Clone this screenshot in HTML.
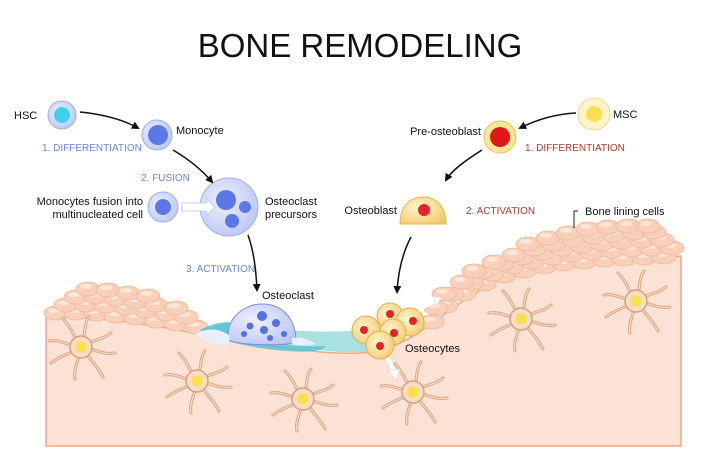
<!DOCTYPE html>
<html><head><meta charset="utf-8"><style>
html,body{margin:0;padding:0;background:#fff;}
svg{display:block;font-family:"Liberation Sans",sans-serif;}
</style></head><body>
<svg width="720" height="474" viewBox="0 0 720 474" xmlns="http://www.w3.org/2000/svg">
<defs>
<marker id="ar" markerWidth="8" markerHeight="8" refX="6" refY="4" orient="auto" markerUnits="userSpaceOnUse"><path d="M0,0 L8,4 L0,8 Z" fill="#111"/></marker>
<radialGradient id="blue" cx="0.4" cy="0.4" r="0.7"><stop offset="0" stop-color="#eef0ff"/><stop offset="1" stop-color="#b9c4f2"/></radialGradient>
<radialGradient id="yel" cx="0.4" cy="0.4" r="0.7"><stop offset="0" stop-color="#fff6cc"/><stop offset="1" stop-color="#f3c96e"/></radialGradient>
<g id="ocy">
<g fill="none" stroke="#d9a07a" stroke-width="3" stroke-linecap="round">
<path d="M0,0 C5,-12 2,-22 8,-30"/><path d="M0,0 C12,-8 20,-6 30,-14"/><path d="M0,0 C14,2 22,8 34,6"/><path d="M0,0 C8,12 16,18 22,30"/><path d="M0,0 C-2,14 -8,22 -6,32"/><path d="M0,0 C-12,8 -20,8 -30,16"/><path d="M0,0 C-14,-2 -22,-8 -32,-6"/><path d="M0,0 C-8,-12 -10,-20 -18,-28"/>
</g>
<g fill="none" stroke="#f8dcc8" stroke-width="1.2" stroke-linecap="round">
<path d="M0,0 C5,-12 2,-22 8,-30"/><path d="M0,0 C12,-8 20,-6 30,-14"/><path d="M0,0 C14,2 22,8 34,6"/><path d="M0,0 C8,12 16,18 22,30"/><path d="M0,0 C-2,14 -8,22 -6,32"/><path d="M0,0 C-12,8 -20,8 -30,16"/><path d="M0,0 C-14,-2 -22,-8 -32,-6"/><path d="M0,0 C-8,-12 -10,-20 -18,-28"/>
</g>
<circle r="11" fill="#f7dcc6" stroke="#d9a07a" stroke-width="1.5"/>
<circle r="5.5" fill="#f8e04a"/>
</g>
<g id="lc"><ellipse rx="12" ry="7" fill="#f8cfb8" stroke="#ecb79c" stroke-width="0.8"/><ellipse cx="-2" cy="-2.5" rx="6" ry="2.5" fill="#fde6d8"/></g>
</defs>

<text x="360" y="57" text-anchor="middle" font-size="33" fill="#111">BONE REMODELING</text>

<!-- bone -->
<path d="M46,318 C120,314 200,336 250,343 C300,350 340,356 372,352 C420,344 452,300 500,280 C560,264 620,260 681,256 L681,446 L46,446 Z" fill="#fbe2d5" stroke="#eea886" stroke-width="1.5"/>

<!-- lining cells left -->
<g>
<use href="#lc" x="56" y="313"/><use href="#lc" x="76" y="313"/><use href="#lc" x="96" y="314"/><use href="#lc" x="116" y="316"/><use href="#lc" x="136" y="318"/><use href="#lc" x="156" y="321"/><use href="#lc" x="176" y="324"/><use href="#lc" x="196" y="327"/>
<use href="#lc" x="66" y="305"/><use href="#lc" x="86" y="305"/><use href="#lc" x="106" y="306"/><use href="#lc" x="126" y="308"/><use href="#lc" x="146" y="311"/><use href="#lc" x="166" y="314"/><use href="#lc" x="186" y="317"/>
<use href="#lc" x="76" y="297"/><use href="#lc" x="96" y="297"/><use href="#lc" x="116" y="299"/><use href="#lc" x="136" y="302"/><use href="#lc" x="156" y="305"/><use href="#lc" x="176" y="308"/>
<use href="#lc" x="88" y="289"/><use href="#lc" x="108" y="290"/><use href="#lc" x="128" y="293"/><use href="#lc" x="148" y="296"/>
</g>
<!-- resorption pit -->
<path d="M205,330 C240,338 290,348 340,352 L368,352 C372,340 370,336 362,330 C320,334 270,330 225,322 Z" fill="#a9e0e0"/>
<path d="M200,330 C215,322 232,318 250,330 C262,344 300,348 325,346 C325,352 300,354 260,348 C235,344 215,338 200,330 Z" fill="#4fc1cf" opacity="0.8"/>
<!-- lining cells right -->
<g>
<use href="#lc" x="432" y="322"/><use href="#lc" x="446" y="306"/><use href="#lc" x="464" y="294"/><use href="#lc" x="484" y="284"/><use href="#lc" x="504" y="276"/><use href="#lc" x="524" y="271"/><use href="#lc" x="544" y="267"/><use href="#lc" x="564" y="264"/><use href="#lc" x="584" y="262"/><use href="#lc" x="604" y="260"/><use href="#lc" x="624" y="259"/><use href="#lc" x="644" y="258"/><use href="#lc" x="664" y="257"/>
<use href="#lc" x="436" y="308"/><use href="#lc" x="452" y="294"/><use href="#lc" x="472" y="283"/><use href="#lc" x="492" y="274"/><use href="#lc" x="512" y="267"/><use href="#lc" x="532" y="262"/><use href="#lc" x="552" y="258"/><use href="#lc" x="572" y="255"/><use href="#lc" x="592" y="253"/><use href="#lc" x="612" y="251"/><use href="#lc" x="632" y="250"/><use href="#lc" x="652" y="249"/><use href="#lc" x="672" y="248"/>
<use href="#lc" x="444" y="294"/><use href="#lc" x="462" y="282"/><use href="#lc" x="482" y="272"/><use href="#lc" x="502" y="264"/><use href="#lc" x="522" y="258"/><use href="#lc" x="542" y="253"/><use href="#lc" x="562" y="249"/><use href="#lc" x="582" y="246"/><use href="#lc" x="602" y="244"/><use href="#lc" x="622" y="242"/><use href="#lc" x="642" y="241"/><use href="#lc" x="662" y="240"/>
<use href="#lc" x="474" y="271"/><use href="#lc" x="494" y="262"/><use href="#lc" x="514" y="255"/><use href="#lc" x="534" y="249"/><use href="#lc" x="554" y="244"/><use href="#lc" x="574" y="240"/><use href="#lc" x="594" y="237"/><use href="#lc" x="614" y="235"/><use href="#lc" x="634" y="233"/><use href="#lc" x="654" y="232"/>
<use href="#lc" x="528" y="244"/><use href="#lc" x="548" y="238"/><use href="#lc" x="568" y="233"/><use href="#lc" x="588" y="229"/><use href="#lc" x="608" y="227"/><use href="#lc" x="628" y="226"/><use href="#lc" x="648" y="226"/>
</g>

<!-- osteocytes -->
<use href="#ocy" x="81" y="347"/><use href="#ocy" x="197" y="381"/><use href="#ocy" x="303" y="399"/><use href="#ocy" x="413" y="392"/><use href="#ocy" x="521" y="319"/><use href="#ocy" x="636" y="301"/>

<!-- osteoclast -->
<path d="M228,340 C226,318 244,304 262,304 C282,304 296,318 296,342 C290,346 240,346 228,340 Z" fill="url(#blue)" stroke="#7d8fe0" stroke-width="1"/>
<path d="M196,334 C210,326 222,330 230,336 L228,346 C214,344 204,342 196,334 Z M292,338 C302,336 310,340 316,344 C306,346 298,346 292,344 Z" fill="#e8f0ff"/>
<g fill="#5570e0"><circle cx="262" cy="316" r="5"/><circle cx="250" cy="326" r="3.5"/><circle cx="264" cy="330" r="4"/><circle cx="276" cy="323" r="4"/><circle cx="244" cy="334" r="3"/><circle cx="284" cy="334" r="3"/><circle cx="270" cy="338" r="3"/></g>

<!-- osteoblasts cluster -->
<g stroke="#e0b050" stroke-width="1">
<circle cx="366" cy="330" r="14" fill="url(#yel)"/><circle cx="390" cy="316" r="13" fill="url(#yel)"/><circle cx="410" cy="322" r="14" fill="url(#yel)"/><circle cx="393" cy="332" r="13" fill="url(#yel)"/><circle cx="380" cy="345" r="14" fill="url(#yel)"/>
</g>
<g fill="#e8202a"><circle cx="364" cy="330" r="4"/><circle cx="390" cy="314" r="4"/><circle cx="413" cy="321" r="4"/><circle cx="394" cy="333" r="4"/><circle cx="380" cy="346" r="4"/></g>
<path d="M418,310 L436,300" stroke="#fff" stroke-width="4"/><path d="M433,296 L442,298 L436,305 Z" fill="#fff" stroke="#ccc" stroke-width="0.5"/>
<path d="M388,358 L394,372" stroke="#fff" stroke-width="4" /><path d="M388,371 L396,380 L400,369 Z" fill="#fff" stroke="#ccc" stroke-width="0.5"/>

<!-- top cells -->
<circle cx="62" cy="115" r="14" fill="url(#blue)" stroke="#9fb0ea"/><circle cx="62" cy="115" r="8" fill="#3dd0f0"/>
<circle cx="157" cy="135" r="15" fill="url(#blue)" stroke="#9fb0ea"/><circle cx="158" cy="135" r="10" fill="#5c78e6"/>
<circle cx="163" cy="207" r="15" fill="url(#blue)" stroke="#9fb0ea"/><circle cx="163" cy="207" r="8" fill="#5c78e6"/>
<circle cx="229" cy="207" r="29" fill="url(#blue)" stroke="#9fb0ea"/><circle cx="226" cy="200" r="10" fill="#5c78e6"/><circle cx="245" cy="207" r="6" fill="#5c78e6"/><circle cx="232" cy="221" r="7" fill="#5c78e6"/>
<path d="M182,203 L207,203 L207,199 L215,207 L207,215 L207,211 L182,211 Z" fill="#fff" stroke="#c8cfe8"/>

<circle cx="594" cy="114" r="16" fill="#fff3c8" stroke="#f0d690"/><circle cx="594" cy="114" r="8" fill="#f8e050"/>
<circle cx="500" cy="137" r="16" fill="#fbe69a" stroke="#f0c060"/><circle cx="500" cy="137" r="10" fill="#e01818"/>
<path d="M400,224 C400,206 410,197 423,197 C436,197 446,206 446,224 Z" fill="url(#yel)" stroke="#e6b855"/><circle cx="424" cy="210" r="6" fill="#e8202a"/>

<!-- arrows -->
<g fill="none" stroke="#111" stroke-width="1.5" marker-end="url(#ar)">
<path d="M80,112 C100,114 120,118 138,128"/>
<path d="M173,150 C190,160 202,170 212,182"/>
<path d="M576,113 C556,114 536,120 520,128"/>
<path d="M482,150 C466,160 452,170 446,180"/>
<path d="M248,235 C254,252 256,270 257,290"/>
<path d="M411,237 C402,254 398,274 397,292"/>
</g>
<path d="M578,211 L574,211 L574,228" fill="none" stroke="#222" stroke-width="1"/>

<!-- labels -->
<g font-size="11" fill="#111">
<text x="14" y="119">HSC</text>
<text x="176" y="134">Monocyte</text>
<text x="265" y="205">Osteoclast</text><text x="265" y="218">precursors</text>
<text x="143" y="205" text-anchor="end">Monocytes fusion into</text><text x="143" y="218" text-anchor="end">multinucleated cell</text>
<text x="262" y="299">Osteoclast</text>
<text x="613" y="118">MSC</text>
<text x="481" y="135" text-anchor="end">Pre-osteoblast</text>
<text x="397" y="214" text-anchor="end">Osteoblast</text>
<text x="585" y="215">Bone lining cells</text>
<text x="405" y="352">Osteocytes</text>
</g>
<g font-size="10" fill="#6c86d8">
<text x="42" y="151">1. DIFFERENTIATION</text>
<text x="141" y="181">2. FUSION</text>
<text x="186" y="272">3. ACTIVATION</text>
</g>
<g font-size="10" fill="#a8402e">
<text x="525" y="151">1. DIFFERENTIATION</text>
<text x="466" y="214">2. ACTIVATION</text>
</g>
</svg>
</body></html>
